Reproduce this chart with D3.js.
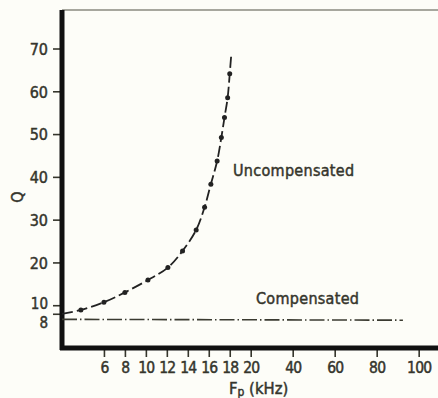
<!DOCTYPE html>
<html><head><meta charset="utf-8">
<script src="https://cdn.jsdelivr.net/npm/d3@7"></script>
<style>
html,body{margin:0;padding:0;background:#fdfdf8;}
svg{display:block;}
text{font-family:"DejaVu Sans Condensed","DejaVu Sans",sans-serif;fill:#35352c;stroke:#35352c;stroke-width:0.45px;}
</style></head>
<body>
<svg id="c" width="438" height="398"></svg>
<script>
// Data
const xTicks = [6, 8, 10, 12, 14, 16, 18, 20, 40, 60, 80, 100];
const yTicks = [8, 10, 20, 30, 40, 50, 60, 70];
const uncompF = [2, 3.8, 6, 8, 10.2, 12.1, 13.5, 14.8, 15.6, 16.2, 16.8, 17.2, 17.5, 17.8, 18.0, 18.15];
const uncompQ = [8.0, 8.9, 10.7, 13.0, 15.9, 18.8, 22.7, 27.6, 32.9, 38.3, 43.7, 49.2, 53.9, 58.5, 64.1, 68.7];
const uncompDot = [0, 1, 1, 1, 1, 1, 1, 1, 1, 1, 1, 1, 1, 1, 1, 0];
const compF = [2, 92.5];
const compQ = [6.7, 6.5];

const svg = d3.select("#c");
const x = d3.scaleLinear().domain([2, 20, 109.2]).range([62, 250.7, 438]);
const y = d3.scaleLinear().domain([0, 79]).range([348, 10]);

// top thin line
svg.append("line").attr("x1", 62).attr("x2", 438).attr("y1", y(79)).attr("y2", y(79))
  .attr("stroke", "#8a8a80").attr("stroke-width", 1.5);

// y axis
const yAx = svg.append("g").attr("transform", "translate(62,0)")
  .call(d3.axisLeft(y).tickValues(yTicks).tickSize(9).tickPadding(3).tickFormat(d3.format("d")));
yAx.select(".domain").remove();
yAx.selectAll(".tick line").attr("stroke", "#35352c").attr("stroke-width", 1.6);
yAx.selectAll(".tick text").attr("font-size", 16).attr("dy", "0.36em").attr("dx", "-2");
yAx.selectAll(".tick").filter(d => d === 10).select("text").attr("font-size", 15).attr("dy", "3.5px");
yAx.selectAll(".tick").filter(d => d === 8).select("text").attr("font-size", 15).attr("dy", "14px");

// x axis
const xAx = svg.append("g").attr("transform", "translate(0,348)")
  .call(d3.axisBottom(x).tickValues(xTicks).tickSize(9).tickPadding(3).tickFormat(d3.format("d")));
xAx.select(".domain").remove();
xAx.selectAll(".tick line").attr("stroke", "#35352c").attr("stroke-width", 1.6);
xAx.selectAll(".tick text").attr("font-size", 15.5).attr("dy", "0.85em").attr("letter-spacing", "-0.8px");

// heavy axis lines
svg.append("line").attr("x1", 62).attr("x2", 62).attr("y1", y(79)).attr("y2", 350)
  .attr("stroke", "#111").attr("stroke-width", 5);
svg.append("line").attr("x1", 60).attr("x2", 438).attr("y1", 348).attr("y2", 348)
  .attr("stroke", "#111").attr("stroke-width", 5);

// uncompensated curve
const uData = uncompF.map((f, i) => ({f, q: uncompQ[i], dot: uncompDot[i]}));
const line = d3.line().x(d => x(d.f)).y(d => y(d.q)).curve(d3.curveCatmullRom.alpha(0.5));
svg.append("path").datum(uData).attr("d", line).attr("fill", "none")
  .attr("stroke", "#222").attr("stroke-width", 1.8).attr("stroke-dasharray", "11,4");
svg.selectAll("circle.u").data(uData.filter(d => d.dot)).enter().append("circle")
  .attr("class", "u").attr("cx", d => x(d.f)).attr("cy", d => y(d.q)).attr("r", 2.5).attr("fill", "#222");

// compensated line
const cData = compF.map((f, i) => ({f, q: compQ[i]}));
svg.append("path").datum(cData).attr("d", d3.line().x(d => x(d.f)).y(d => y(d.q)))
  .attr("fill", "none").attr("stroke", "#3a3a30").attr("stroke-width", 1.6)
  .attr("stroke-dasharray", "15,3,1.5,3");

// labels
svg.append("text").attr("x", 233).attr("y", 176).attr("font-size", 16).attr("letter-spacing", "0.3px").text("Uncompensated");
svg.append("text").attr("x", 256).attr("y", 304).attr("font-size", 16).attr("letter-spacing", "0.3px").text("Compensated");
svg.append("text").attr("transform", "translate(23,197) rotate(-90)").attr("text-anchor", "middle")
  .attr("font-size", 16).text("Q");
const xl = svg.append("text").attr("x", 229).attr("y", 394).attr("font-size", 16.5);
xl.append("tspan").text("F");
xl.append("tspan").attr("font-size", 12).attr("dy", 2).text("p");
xl.append("tspan").attr("dy", -2).text(" (kHz)");
</script>
</body></html>
